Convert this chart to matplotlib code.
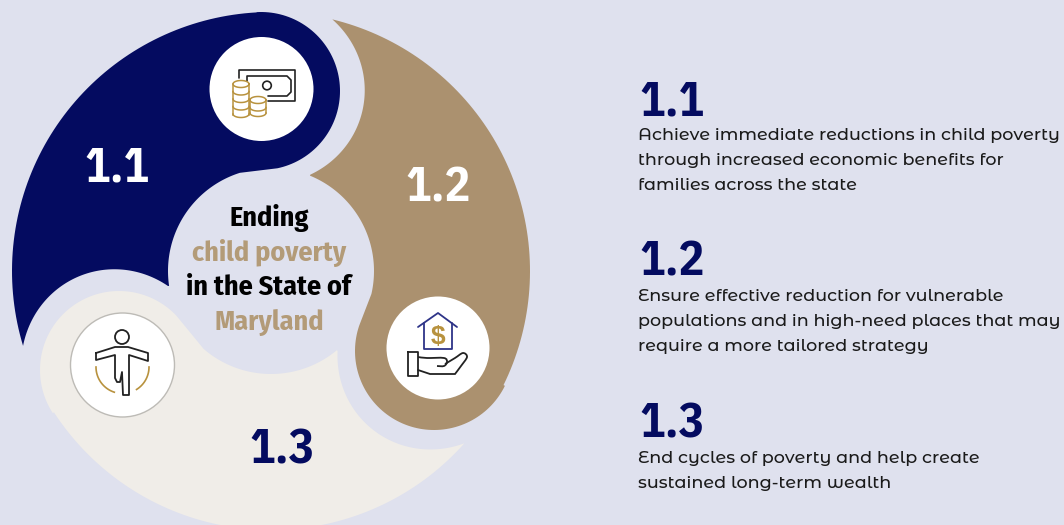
# Ending child poverty wheel, drawn in pixel coordinates of the picture

import numpy as np
import matplotlib.pyplot as plt
from matplotlib.path import Path
from matplotlib.patches import PathPatch, Circle

# text content
labels = ['1.1', '1.2', '1.3']
wheel_label_pos = [(117, 182), (438, 202), (282, 464)]
wheel_label_col = ['white', 'white', '#040B60']
descriptions = [
    ['Achieve immediate reductions in child poverty',
     'through increased economic benefits for',
     'families across the state'],
    ['Ensure effective reduction for vulnerable',
     'populations and in high-need places that may',
     'require a more tailored strategy'],
    ['End cycles of poverty and help create',
     'sustained long-term wealth'],
]
heading_y = [115, 276, 438]
first_line_y = [140, 301, 463]
center_lines = ['Ending', 'child poverty', 'in the State of', 'Maryland']
center_cols = ['black', '#B39B78', 'black', '#B39B78']
center_y = [226, 261, 295, 330]

BG = '#DFE1EE'
NAVY = '#040B60'
TAN = '#AB916F'
CREAM = '#F0EDE8'
GOLD = '#B8923E'
INK = '#222222'

NUM_FONT = ['IBM Plex Sans Condensed', 'Roboto', 'DejaVu Sans']
TITLE_FONT = ['Fira Sans Condensed', 'Roboto', 'DejaVu Sans']
BODY_FONT = ['Montserrat Alternates', 'Inter', 'DejaVu Sans']

# wheel geometry: one blob, turned about the wheel centre for the other two
WHEEL = np.array([271.0, 271.0])
OUTER_R = 259
INNER_R = 103
CAP_R = 79
NEXT_CAP = np.array([120.0, 373.0])
TIP_ANGLE = 163.2
CORNER = np.array([168.0, 286.0])
turns = [0, 120.5, 238.5]
caps = [(261.0, 91.0), (434.0, 351.0), (119.0, 370.0)]
colors = [NAVY, TAN, CREAM]


def arc_pts(center, r, a0, a1, n=80):
    t = np.radians(np.linspace(a0, a1, n))
    return np.column_stack([center[0] + r * np.cos(t), center[1] + r * np.sin(t)])


def polar(p, center):
    d = p - center
    return np.hypot(*d), np.degrees(np.arctan2(d[1], d[0]))


def turned(pts, deg):
    t = np.radians(deg)
    rot = np.array([[np.cos(t), -np.sin(t)], [np.sin(t), np.cos(t)]])
    return (np.asarray(pts) - WHEEL) @ rot.T + WHEEL


def blob(deg, cap):
    local_cap = turned(cap, -deg)
    tip = arc_pts(WHEEL, OUTER_R, TIP_ANGLE, TIP_ANGLE, 1)[0]
    corner_r, corner_a = polar(CORNER, WHEEL)
    # outer arc hands over to the cap on the line through both centres, so no kink
    join = polar(local_cap, WHEEL)[1] % 360
    # last edge runs round the neighbouring cap, radius drifts slightly between its two ends
    r0, a0 = polar(CORNER, NEXT_CAP)
    r1, a1 = polar(tip, NEXT_CAP)
    if a0 < 0:
        a0 += 360
    if a1 < 0:
        a1 += 360
    t = np.linspace(0, 1, 80)
    r = r0 + (r1 - r0) * t + 5 * np.sin(np.pi * t)
    a = np.radians(a0 + (a1 - a0) * t)
    edge = np.column_stack([NEXT_CAP[0] + r * np.cos(a), NEXT_CAP[1] + r * np.sin(a)])
    pts = np.vstack([
        arc_pts(WHEEL, OUTER_R, TIP_ANGLE, join),
        arc_pts(local_cap, CAP_R, join, 438),
        arc_pts(WHEEL, INNER_R, 252.4, corner_a % 360),
        edge,
    ])
    return turned(pts, deg)


def line(ax, pts, color=INK, lw=1.3):
    xs, ys = zip(*pts)
    ax.plot(xs, ys, color=color, lw=lw, solid_capstyle='round', solid_joinstyle='round')


def curve(ax, pts, color=INK, lw=1.3):
    # Catmull-Rom through the points, for the hand outline
    p = np.array(pts, dtype=float)
    verts = [tuple(p[0])]
    codes = [Path.MOVETO]
    for i in range(len(p) - 1):
        p0 = p[i - 1] if i > 0 else p[i]
        p3 = p[i + 2] if i + 2 < len(p) else p[i + 1]
        verts += [tuple(p[i] + (p[i + 1] - p0) / 6), tuple(p[i + 1] - (p3 - p[i]) / 6), tuple(p[i + 1])]
        codes += [Path.CURVE4] * 3
    ax.add_patch(PathPatch(Path(verts, codes), fc='none', ec=color, lw=lw))


def coins(ax, cx, top, bottom, rx=8, ry=3.5, gap=7.5):
    t = np.linspace(0, 2 * np.pi, 50)
    ax.plot(cx + rx * np.cos(t), top + ry * np.sin(t), color=GOLD, lw=1.1)
    y = top
    half = np.linspace(0, np.pi, 25)
    while y < bottom - 1:
        y = min(y + gap, bottom)
        ax.plot(cx + rx * np.cos(half), y + ry * np.sin(half), color=GOLD, lw=1.1)
    ax.plot([cx - rx, cx - rx], [top, bottom], color=GOLD, lw=1.1)
    ax.plot([cx + rx, cx + rx], [top, bottom], color=GOLD, lw=1.1)


fig = plt.figure(figsize=(10.64, 5.25), dpi=100, facecolor=BG)
ax = fig.add_axes([0, 0, 1, 1])
ax.set_xlim(0, 1064)
ax.set_ylim(525, 0)
ax.axis('off')

for deg, cap, col in zip(turns[::-1], caps[::-1], colors[::-1]):
    ax.fill(*blob(deg, cap).T, color=col, lw=0)

# white icon circles
ax.add_patch(Circle((261.5, 89), 52, fc='white', ec='none'))
ax.add_patch(Circle((438, 348), 51.5, fc='white', ec='none'))
ax.add_patch(Circle((122.5, 365), 52, fc='white', ec='#BDBBB6', lw=1))

# money icon
line(ax, [(239, 78), (239, 70), (295, 70), (295, 101), (268, 101)], lw=1.2)
line(ax, [(247, 81), (247, 76), (287, 76), (291, 80), (291, 92), (287, 96), (268, 96)], lw=1.2)
ax.add_patch(Circle((267, 85.5), 4.3, fc='none', ec=INK, lw=1.2))
coins(ax, 241, 84, 115)
coins(ax, 258, 100, 113)

# house and hand icon
line(ax, [(418, 327), (438, 313), (457, 327)], color='#2E3488')
line(ax, [(424, 323), (424, 349), (452, 349), (452, 323)], color='#2E3488')
ax.text(438, 337, '$', color=GOLD, fontsize=19, fontweight='bold', ha='center', va='center',
        family=['Liberation Sans', 'DejaVu Sans'])
line(ax, [(408, 352), (418, 352), (418, 376), (408, 376), (408, 352)])
curve(ax, [(418, 357), (427, 358), (444, 358), (447, 362), (444, 366), (437, 366)])
curve(ax, [(445, 364), (455, 358), (463, 353), (467, 357), (461, 366), (455, 374)])
line(ax, [(455, 374), (430, 374), (418, 370)])

# person icon
ax.add_patch(Circle((122, 337), 7, fc='none', ec=INK, lw=1.3))
line(ax, [(96, 353), (96, 360), (115, 355), (115, 378), (117, 382), (120, 382), (122, 372), (123, 395), (129, 395),
          (129, 355), (148, 361), (148, 353), (128, 347), (115, 347), (96, 353)])
for a0, a1 in [(180, 108), (0, 58)]:
    ax.plot(*arc_pts((122.5, 367), 26.5, a0, a1, 40).T, color=GOLD, lw=1.2)

# wheel numbers
for lab, (x, y), col in zip(labels, wheel_label_pos, wheel_label_col):
    ax.text(x, y, lab, color=col, fontsize=34.5, fontweight='bold', ha='center', va='baseline', family=NUM_FONT)

# centre title
for txt, y, col in zip(center_lines, center_y, center_cols):
    ax.text(269, y, txt, color=col, fontsize=20.2, fontweight='bold', ha='center', va='baseline', family=TITLE_FONT)

# right column
for lab, hy, ly, lines in zip(labels, heading_y, first_line_y, descriptions):
    ax.text(639, hy, lab, color=NAVY, fontsize=34.5, fontweight='bold', ha='left', va='baseline', family=NUM_FONT)
    for i, txt in enumerate(lines):
        ax.text(638, ly + i * 25, txt, color='#1A1A1A', fontsize=12.6, fontweight=500, ha='left', va='baseline',
                family=BODY_FONT)

fig.savefig('out.png', dpi=100, facecolor=BG)
